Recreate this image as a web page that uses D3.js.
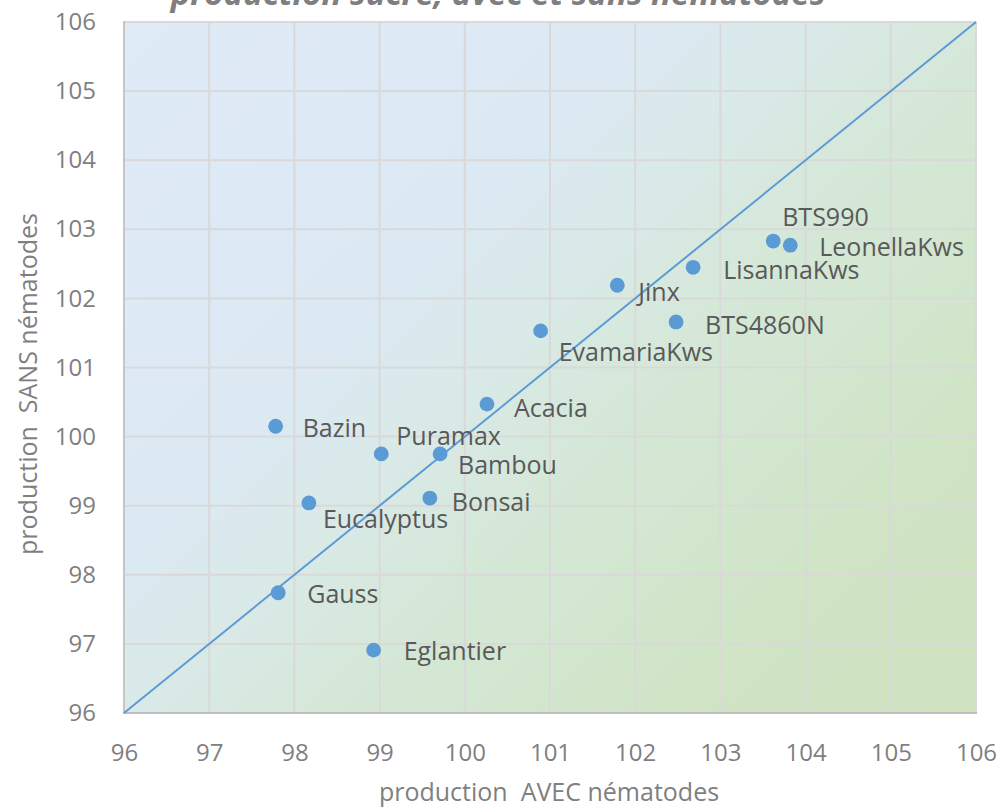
<!DOCTYPE html>
<html><head><meta charset="utf-8">
<script src="https://cdn.jsdelivr.net/npm/d3@7"></script>
<style>body{margin:0;background:#fff;}svg{display:block;}</style>
</head><body>
<script>
const varieties = ["Bazin","Puramax","Bambou","Acacia","Eucalyptus","Bonsai","Gauss","Eglantier","EvamariaKws","Jinx","BTS4860N","LisannaKws","BTS990","LeonellaKws"];
const avec = [97.78, 99.02, 99.71, 100.26, 98.17, 99.59, 97.81, 98.93, 100.89, 101.79, 102.48, 102.68, 103.62, 103.82];
const sans = [100.15, 99.75, 99.75, 100.47, 99.04, 99.11, 97.74, 96.91, 101.53, 102.19, 101.66, 102.45, 102.83, 102.77];
const tickValues = [96,97,98,99,100,101,102,103,104,105,106];
const titleText = "production sucre, avec et sans nématodes";
const xTitle = "production  AVEC nématodes";
const yTitle = "production  SANS nématodes";

// label placement (layout only): [dx, dy of baseline] from the point
const labelOffset = {
  Bazin:[27,11], Puramax:[15,-9], Bambou:[18,20], Acacia:[27,13], Eucalyptus:[14,25],
  Bonsai:[22,13], Gauss:[29,10], Eglantier:[30,10], EvamariaKws:[18,30], Jinx:[21,16],
  BTS4860N:[29,12], LisannaKws:[30,12], BTS990:[9,-15], LeonellaKws:[29,11]
};

const W=1006,H=808;
const svg=d3.select("body").append("svg").attr("width",W).attr("height",H);
const font="'Open Sans', 'Noto Sans', sans-serif";
const x=d3.scaleLinear().domain([96,106]).range([124,976]);
const y=d3.scaleLinear().domain([96,106]).range([713,22]);

const defs=svg.append("defs");
const span=(x(106)-x(96)+y(96)-y(106))/2;
const g=defs.append("linearGradient").attr("id","bg").attr("gradientUnits","userSpaceOnUse")
  .attr("x1",x(96)).attr("y1",y(106)).attr("x2",x(96)+span).attr("y2",y(106)+span);
[[0,"#dfeaf7"],[0.35,"#dce9f3"],[0.47,"#d9e9e6"],[0.57,"#d5e8d8"],[0.8,"#d0e4c6"],[1,"#cfe3c1"]]
  .forEach(s=>g.append("stop").attr("offset",s[0]).attr("stop-color",s[1]));

svg.append("rect").attr("x",x(96)).attr("y",y(106)).attr("width",x(106)-x(96)).attr("height",y(96)-y(106)).attr("fill","url(#bg)");

// gridlines
svg.append("g").selectAll("line").data(tickValues).join("line")
  .attr("x1",d=>x(d)).attr("x2",d=>x(d)).attr("y1",y(96)).attr("y2",y(106))
  .attr("stroke","#d9d9d9").attr("stroke-width",2);
svg.append("g").selectAll("line").data(tickValues).join("line")
  .attr("y1",d=>y(d)).attr("y2",d=>y(d)).attr("x1",x(96)).attr("x2",x(106))
  .attr("stroke","#d9d9d9").attr("stroke-width",2);
// left & bottom border darker
svg.append("line").attr("x1",x(96)).attr("x2",x(96)).attr("y1",y(96)+1).attr("y2",y(106)-1).attr("stroke","#c6c6c6").attr("stroke-width",2);
svg.append("line").attr("x1",x(96)-1).attr("x2",x(106)+1).attr("y1",y(96)).attr("y2",y(96)).attr("stroke","#bfbfbf").attr("stroke-width",2);

// axes
const xa=svg.append("g").attr("transform",`translate(0,${y(96)})`).call(d3.axisBottom(x).tickValues(tickValues).tickSize(0).tickPadding(31).tickFormat(d3.format("d")));
const ya=svg.append("g").attr("transform",`translate(${x(96)},0)`).call(d3.axisLeft(y).tickValues(tickValues).tickSize(0).tickPadding(28).tickFormat(d3.format("d")));
[xa,ya].forEach(a=>{a.select(".domain").remove();a.selectAll("text").attr("fill","#7f7f7f").style("font-family",font).style("font-size","24px");});

// diagonal
svg.append("line").attr("x1",x(96)).attr("y1",y(96)).attr("x2",x(106)).attr("y2",y(106))
  .attr("stroke","#5b9bd5").attr("stroke-width",2);

const data=varieties.map((n,i)=>({n,a:avec[i],s:sans[i]}));
svg.append("g").selectAll("circle").data(data).join("circle")
  .attr("cx",d=>x(d.a)).attr("cy",d=>y(d.s)).attr("r",7.4).attr("fill","#5b9bd5");
svg.append("g").selectAll("text").data(data).join("text")
  .attr("x",d=>x(d.a)+labelOffset[d.n][0]).attr("y",d=>y(d.s)+labelOffset[d.n][1])
  .text(d=>d.n).attr("fill","#595959").style("font-family",font).style("font-size","25px");

// titles
svg.append("text").attr("x",498).attr("y",5).attr("text-anchor","middle").text(titleText)
  .attr("fill","#7f7f7f").style("font-family",font).style("font-size","33px").style("font-weight","bold").style("font-style","italic");
svg.append("text").attr("x",549).attr("y",801).attr("text-anchor","middle").text(xTitle)
  .attr("fill","#7f7f7f").style("font-family",font).style("font-size","25px").style("white-space","pre");
svg.append("text").attr("transform","translate(37,384) rotate(-90)").attr("text-anchor","middle").text(yTitle)
  .attr("fill","#7f7f7f").style("font-family",font).style("font-size","25px").style("white-space","pre");
</script>
</body></html>
